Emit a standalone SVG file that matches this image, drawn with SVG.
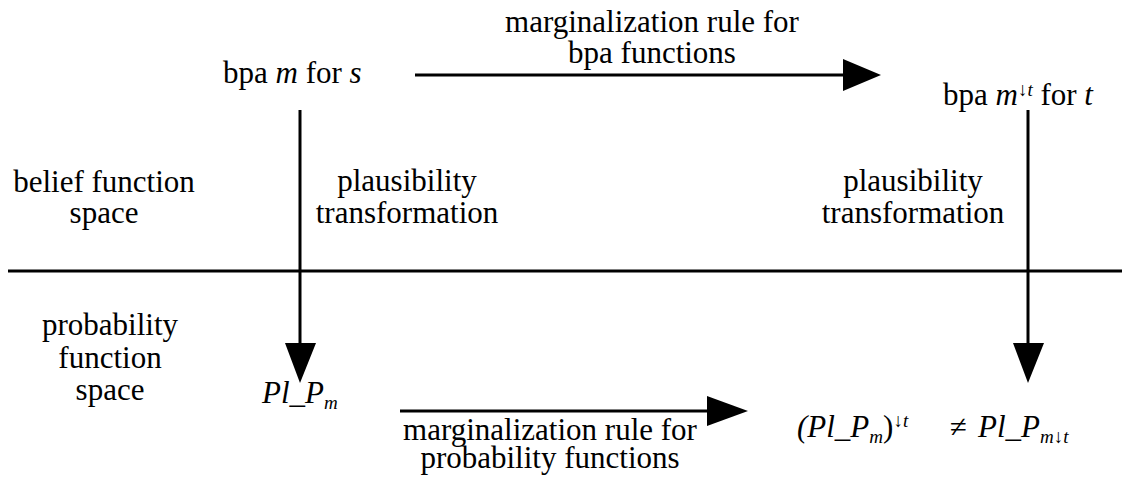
<svg xmlns="http://www.w3.org/2000/svg" width="1130" height="483" viewBox="0 0 1130 483">
<style>
text{font-family:"Liberation Serif","Times New Roman",serif;font-size:31px;fill:#000}
.c{text-anchor:middle}
.i{font-style:italic}
.s{font-size:19px}
.ln{stroke:#000;stroke-width:3;fill:none}
.hd{fill:#000}
</style>
<rect width="1130" height="483" fill="#fff"/>
<g id="connectors">
<line class="ln" x1="8" y1="271" x2="1122" y2="271"/>
<line class="ln" x1="415" y1="75" x2="846" y2="75"/>
<polygon class="hd" points="843,59 881,75 843,91"/>
<line class="ln" x1="300" y1="110" x2="300" y2="346"/>
<polygon class="hd" points="285,343 316,343 300,383"/>
<line class="ln" x1="1028" y1="110" x2="1028" y2="346"/>
<polygon class="hd" points="1013,343 1044,343 1028,383"/>
<line class="ln" x1="400" y1="411" x2="710" y2="411"/>
<polygon class="hd" points="707,396 748,411 707,426"/>
</g>
<g id="label-marg-bpa"><text class="c" x="652" y="32">marginalization rule for</text><text class="c" x="652" y="63">bpa functions</text></g>
<g id="node-bpa-m"><text x="223" y="83">bpa <tspan class="i">m</tspan> for <tspan class="i">s</tspan></text></g>
<g id="node-bpa-mt"><text x="943" y="105">bpa <tspan class="i">m</tspan><tspan class="i s" dy="-9">↓t</tspan><tspan dy="9"> for </tspan><tspan class="i">t</tspan></text></g>
<g id="label-belief"><text class="c" x="104" y="192">belief function</text><text class="c" x="104" y="223">space</text></g>
<g id="label-pl-left"><text class="c" x="407" y="191">plausibility</text><text class="c" x="407" y="223">transformation</text></g>
<g id="label-pl-right"><text class="c" x="913" y="191">plausibility</text><text class="c" x="913" y="223">transformation</text></g>
<g id="label-prob"><text class="c" x="110" y="335">probability</text><text class="c" x="110" y="368">function</text><text class="c" x="110" y="400">space</text></g>
<g id="node-plpm"><text class="i" x="262" y="403">Pl_P<tspan class="s" dy="6">m</tspan></text></g>
<g id="label-marg-prob"><text class="c" x="550" y="440">marginalization rule for</text><text class="c" x="550" y="468">probability functions</text></g>
<g id="node-result">
<text x="797" y="437"><tspan class="i">(Pl_P</tspan><tspan class="i s" dy="6">m</tspan><tspan dy="-6">)</tspan><tspan class="i s" dy="-10">↓t</tspan></text>
<text x="950" y="437">≠</text>
<text x="978" y="437"><tspan class="i">Pl_P</tspan><tspan class="i s" dy="6">m↓t</tspan></text>
</g>
</svg>
